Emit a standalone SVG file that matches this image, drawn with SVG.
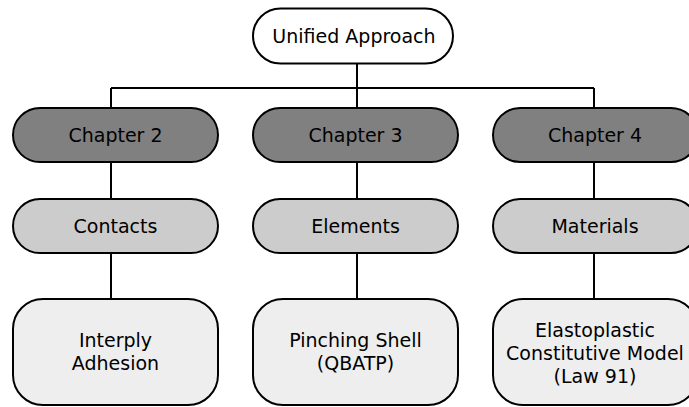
<svg xmlns="http://www.w3.org/2000/svg" width="689" height="407" viewBox="0 0 689 407">
<style>
.box{stroke:#000;stroke-width:2}
.top{fill:#ffffff}
.ch{fill:#808080}
.cat{fill:#cccccc}
.leaf{fill:#eeeeee}
text{font-family:"DejaVu Sans",Verdana,sans-serif;font-size:19px;fill:#000;text-anchor:middle}
.edge{stroke:#000;stroke-width:2;fill:none}
</style>
<g id="connectors">
<path class="edge" d="M357 64V88M111 88H594M111 88V108M357 88V108M594 88V108"/>
<path class="edge" d="M111 162V199M357 162V199M594 162V199"/>
<path class="edge" d="M111 253V299M357 253V299M594 253V299"/>
</g>
<g id="unified"><rect class="box top" x="253" y="8.5" width="200" height="55" rx="27.5"/><text x="354" y="43">Unified Approach</text></g>
<g id="ch2"><rect class="box ch" x="13" y="108" width="205" height="54" rx="27"/><text x="115.5" y="142">Chapter 2</text></g>
<g id="ch3"><rect class="box ch" x="253" y="108" width="205" height="54" rx="27"/><text x="355.5" y="142">Chapter 3</text></g>
<g id="ch4"><rect class="box ch" x="493" y="108" width="205" height="54" rx="27"/><text x="595" y="142">Chapter 4</text></g>
<g id="contacts"><rect class="box cat" x="13" y="199" width="205" height="54" rx="27"/><text x="115.5" y="233">Contacts</text></g>
<g id="elements"><rect class="box cat" x="253" y="199" width="205" height="54" rx="27"/><text x="355.5" y="233">Elements</text></g>
<g id="materials"><rect class="box cat" x="493" y="199" width="205" height="54" rx="27"/><text x="595" y="233">Materials</text></g>
<g id="interply"><rect class="box leaf" x="13" y="299" width="205" height="106" rx="30"/><text x="115.5" y="347">Interply</text><text x="115.5" y="370">Adhesion</text></g>
<g id="pinching"><rect class="box leaf" x="253" y="299" width="205" height="106" rx="30"/><text x="355.5" y="347">Pinching Shell</text><text x="355.5" y="370">(QBATP)</text></g>
<g id="elasto"><rect class="box leaf" x="493" y="299" width="205" height="106" rx="30"/><text x="595" y="337">Elastoplastic</text><text x="595" y="360">Constitutive Model</text><text x="595" y="383">(Law 91)</text></g>
</svg>
